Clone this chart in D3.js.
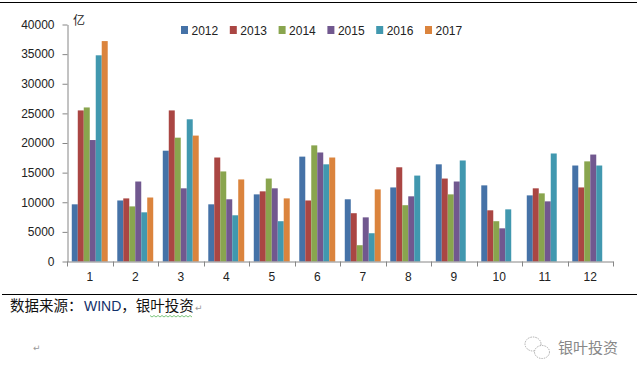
<!DOCTYPE html>
<html lang="zh">
<head>
  <meta charset="UTF-8">
  <title>银叶投资</title>
  <script src="https://d3js.org/d3.v7.min.js"></script>
  <style>
    html, body { margin: 0; padding: 0; background: #fff; }
    svg { display: block; }
  </style>
</head>
<body>
<script>
  const months = ["1", "2", "3", "4", "5", "6", "7", "8", "9", "10", "11", "12"];
  const years = ["2012", "2013", "2014", "2015", "2016", "2017"];
  const colors = ["#4572a7", "#aa4643", "#89a54e", "#71588f", "#4198af", "#db843d"];
  const yTicks = [0, 5000, 10000, 15000, 20000, 25000, 30000, 35000, 40000];

  const v2012 = [9650, 10300, 18700, 9650, 11330, 17700, 10500, 12500, 16400, 12850, 11160, 16200];
  const v2013 = [25500, 10650, 25500, 17550, 11840, 10300, 8150, 15900, 14000, 8640, 12350, 12500];
  const v2014 = [26000, 9300, 20900, 15200, 14000, 19600, 2750, 9500, 11330, 6800, 11500, 16900];
  const v2015 = [20500, 13500, 12350, 10500, 12350, 18400, 7450, 11000, 13500, 5600, 10150, 18050];
  const v2016 = [34800, 8300, 24000, 7800, 6800, 16400, 4770, 14500, 17050, 8800, 18230, 16200];
  const v2017 = [37200, 10800, 21250, 13850, 10650, 17550, 12170, null, null, null, null, null];
  const seriesValues = [v2012, v2013, v2014, v2015, v2016, v2017];

  const width = 637;
  const height = 377;
  const cjk = "'Noto Sans CJK SC', sans-serif";
  const latin = "'Liberation Sans', Arial, sans-serif";

  const svg = d3.select("body").append("svg")
    .attr("width", width)
    .attr("height", height);

  // Scales
  const x = d3.scaleBand()
    .domain(months)
    .range([67, 613])
    .paddingInner(0.21)
    .paddingOuter(0.105);

  const xInner = d3.scaleBand()
    .domain(years)
    .range([0, x.bandwidth()]);

  const y = d3.scaleLinear()
    .domain([0, 40000])
    .range([261.5, 24.5]);

  const color = d3.scaleOrdinal().domain(years).range(colors);

  // Rules above and below the chart
  svg.selectAll("line.rule")
    .data([2, 294])
    .enter()
    .append("line")
    .attr("class", "rule")
    .attr("x1", d => d === 2 ? 0 : 2)
    .attr("x2", width)
    .attr("y1", d => d + 0.5)
    .attr("y2", d => d + 0.5)
    .attr("stroke", "#000")
    .attr("stroke-width", 1);

  // Bars
  years.forEach((year, i) => {
    svg.append("g")
      .selectAll("rect")
      .data(seriesValues[i].map((v, m) => ({month: months[m], value: v})).filter(d => d.value !== null))
      .enter()
      .append("rect")
      .attr("x", d => x(d.month) + xInner(year))
      .attr("width", xInner.bandwidth())
      .attr("y", d => y(d.value))
      .attr("height", d => y(0) - y(d.value))
      .attr("fill", color(year));
  });

  // Y axis
  const yAxis = svg.append("g")
    .attr("transform", "translate(67.5,0)")
    .call(d3.axisLeft(y).tickValues(yTicks).tickFormat(d3.format("d")).tickSize(5).tickSizeOuter(0).tickPadding(8));

  // X axis - labels centred, ticks on the band edges
  const xAxis = svg.append("g")
    .attr("transform", "translate(0,261.5)")
    .call(d3.axisBottom(x).tickSize(0).tickSizeOuter(0).tickPadding(11));

  xAxis.selectAll("line.edge")
    .data(d3.range(months.length + 1))
    .enter()
    .append("line")
    .attr("class", "edge")
    .attr("x1", d => Math.round(67 + d * x.step()) + 0.5)
    .attr("x2", d => Math.round(67 + d * x.step()) + 0.5)
    .attr("y1", 0)
    .attr("y2", 5)
    .attr("stroke", "#868686");

  [yAxis, xAxis].forEach(a => {
    a.selectAll("path").attr("stroke", "#868686");
    a.selectAll(".tick line").attr("stroke", "#868686");
    a.selectAll("text")
      .attr("fill", "#222")
      .style("font-family", latin)
      .style("font-size", "12px");
  });

  // Unit
  svg.append("text")
    .attr("x", 73)
    .attr("y", 25)
    .attr("fill", "#222")
    .style("font-family", cjk)
    .style("font-size", "12px")
    .text("亿");

  // Legend
  const legendX = d3.scalePoint()
    .domain(years)
    .range([181, 425]);

  const legend = svg.append("g")
    .selectAll("g")
    .data(years)
    .enter()
    .append("g")
    .attr("transform", d => `translate(${legendX(d)},26)`);

  legend.append("rect")
    .attr("width", 7)
    .attr("height", 8)
    .attr("fill", d => color(d));

  legend.append("text")
    .attr("x", 10.5)
    .attr("y", 8.5)
    .attr("fill", "#222")
    .style("font-family", latin)
    .style("font-size", "12px")
    .text(d => d);

  // Source note
  const note = svg.append("text")
    .attr("x", 10)
    .attr("y", 311)
    .attr("fill", "#111")
    .style("font-family", cjk)
    .style("font-size", "14.5px");
  note.append("tspan").text("数据来源：");
  note.append("tspan").attr("dx", 1.5).attr("fill", "#12306a").style("font-family", latin).style("font-size", "14px").text("WIND");
  note.append("tspan").text("，银叶投资");

  // Spell-check squiggle under the last two characters
  const squiggleX = d3.range(150, 194, 2);
  svg.append("path")
    .attr("d", d3.line().x(d => d).y((d, i) => 315.5 + (i % 2) * 1.5)(squiggleX))
    .attr("fill", "none")
    .attr("stroke", "#5cb85c")
    .attr("stroke-width", 0.8);

  // Paragraph marks
  svg.selectAll("text.mark")
    .data([[195, 311], [33, 351]])
    .enter()
    .append("text")
    .attr("class", "mark")
    .attr("x", d => d[0])
    .attr("y", d => d[1])
    .attr("fill", "#999")
    .style("font-family", "'DejaVu Sans', sans-serif")
    .style("font-size", "9px")
    .text("↵");

  // Watermark
  const mark = svg.append("g").attr("fill", "#fff").attr("stroke", "#999").attr("stroke-width", 0.8).attr("stroke-dasharray", "1.5 1");
  mark.append("ellipse").attr("cx", 533).attr("cy", 344).attr("rx", 8).attr("ry", 7);
  mark.append("ellipse").attr("cx", 542).attr("cy", 352).attr("rx", 7.5).attr("ry", 6.5);

  svg.append("text")
    .attr("x", 558)
    .attr("y", 353)
    .attr("fill", "#888")
    .style("font-family", cjk)
    .style("font-size", "15px")
    .text("银叶投资");
</script>
</body>
</html>
